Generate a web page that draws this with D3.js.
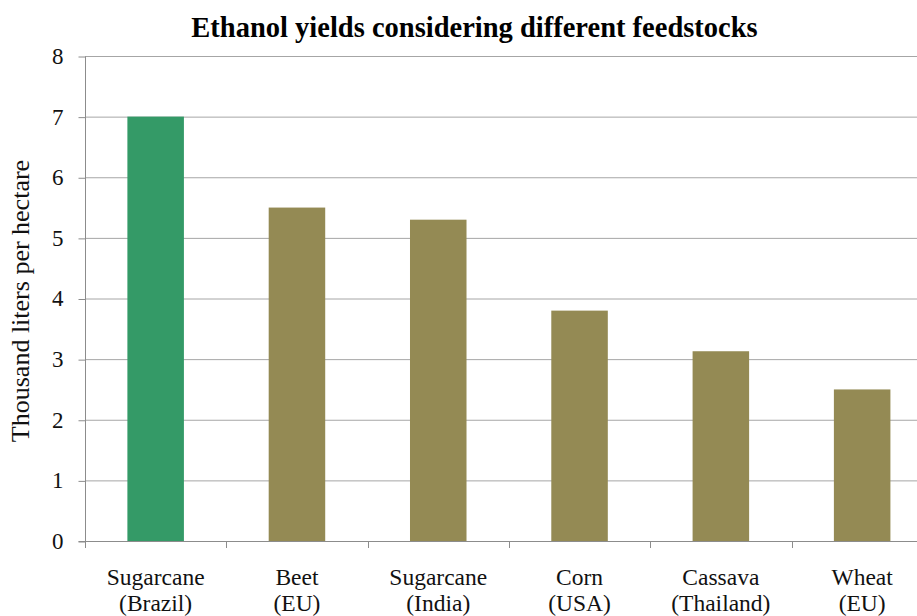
<!DOCTYPE html>
<html>
<head>
<meta charset="utf-8">
<script src="https://cdn.jsdelivr.net/npm/d3@7/dist/d3.min.js"></script>
<style>
  html, body { margin: 0; padding: 0; background: #fff; }
  svg { display: block; }
</style>
</head>
<body>
<svg id="chart" width="917" height="616"></svg>
<script>
// Ethanol yield per hectare by feedstock (thousand liters)
const crops = ["Sugarcane", "Beet", "Sugarcane", "Corn", "Cassava", "Wheat"];
const regions = ["(Brazil)", "(EU)", "(India)", "(USA)", "(Thailand)", "(EU)"];
const yields = [7.0, 5.5, 5.3, 3.8, 3.13, 2.5];
const yTicks = [0, 1, 2, 3, 4, 5, 6, 7, 8];
const barColors = ["#349a67", "#948a54", "#948a54", "#948a54", "#948a54", "#948a54"];

const FONT = '"Liberation Serif", "Times New Roman", serif';
const svg = d3.select("#chart");
const plotLeft = 85, plotTop = 56, plotBottom = 541;
const bandW = 141.3;

const x = d3.scaleBand()
  .domain(d3.range(crops.length))
  .range([plotLeft, plotLeft + bandW * crops.length])
  .paddingInner(0.6)
  .paddingOuter(0.3);

const y = d3.scaleLinear().domain([0, 8]).range([plotBottom, plotTop]);

// gridlines
svg.append("g")
  .selectAll("line")
  .data(yTicks.slice(1))
  .join("line")
  .attr("x1", plotLeft).attr("x2", 917)
  .attr("y1", d => y(d) + 0.5).attr("y2", d => y(d) + 0.5)
  .attr("stroke", "#a6a6a6").attr("stroke-width", 1);

// bars
svg.append("g")
  .selectAll("rect")
  .data(yields)
  .join("rect")
  .attr("x", (d, i) => x(i))
  .attr("width", x.bandwidth())
  .attr("y", d => y(d))
  .attr("height", d => y(0) - y(d))
  .attr("fill", (d, i) => barColors[i]);

// y axis
const yAxis = svg.append("g")
  .attr("transform", `translate(${plotLeft + 0.5},0)`)
  .call(d3.axisLeft(y).tickValues(yTicks).tickSize(7).tickPadding(15).tickFormat(d3.format("d")));
yAxis.select(".domain").attr("stroke", "#8c8c8c").attr("d", `M-7,${y(0) + 0.5}H0V${y(8) + 0.5}`);
yAxis.selectAll(".tick line").attr("stroke", "#8c8c8c").attr("transform", "translate(0,0.5)");
yAxis.selectAll(".tick text")
  .style("font-family", FONT)
  .style("font-size", "23px").attr("fill", "#111");

// x axis baseline and category separators
const xg = svg.append("g");
xg.append("line")
  .attr("x1", plotLeft).attr("x2", 917)
  .attr("y1", y(0) + 0.5).attr("y2", y(0) + 0.5)
  .attr("stroke", "#8c8c8c");
const sepPositions = d3.range(crops.length + 1).map(i => plotLeft + i * bandW);
xg.selectAll("line.sep")
  .data(sepPositions)
  .join("line")
  .attr("class", "sep")
  .attr("x1", d => Math.round(d) + 0.5).attr("x2", d => Math.round(d) + 0.5)
  .attr("y1", y(0)).attr("y2", y(0) + 7)
  .attr("stroke", "#8c8c8c");

// category labels (two lines)
const lab = svg.append("g")
  .selectAll("text")
  .data(crops)
  .join("text")
  .attr("text-anchor", "middle")
  .attr("x", (d, i) => x(i) + x.bandwidth() / 2)
  .attr("y", 585)
  .style("font-family", FONT)
  .style("font-size", "23.5px")
  .attr("fill", "#111");
lab.append("tspan").text(d => d);
lab.append("tspan")
  .attr("x", (d, i) => x(i) + x.bandwidth() / 2)
  .attr("dy", 26)
  .text((d, i) => regions[i]);

// axis title
svg.append("text")
  .attr("transform", `translate(29,301) rotate(-90)`)
  .attr("text-anchor", "middle")
  .style("font-family", FONT)
  .style("font-size", "26px")
  .attr("fill", "#111")
  .text("Thousand liters per hectare");

// chart title
svg.append("text")
  .attr("x", 474.5).attr("y", 37)
  .attr("text-anchor", "middle")
  .style("font-family", FONT)
  .style("font-size", "28.5px").style("font-weight", "bold")
  .attr("fill", "#000")
  .text("Ethanol yields considering different feedstocks");
</script>
</body>
</html>
